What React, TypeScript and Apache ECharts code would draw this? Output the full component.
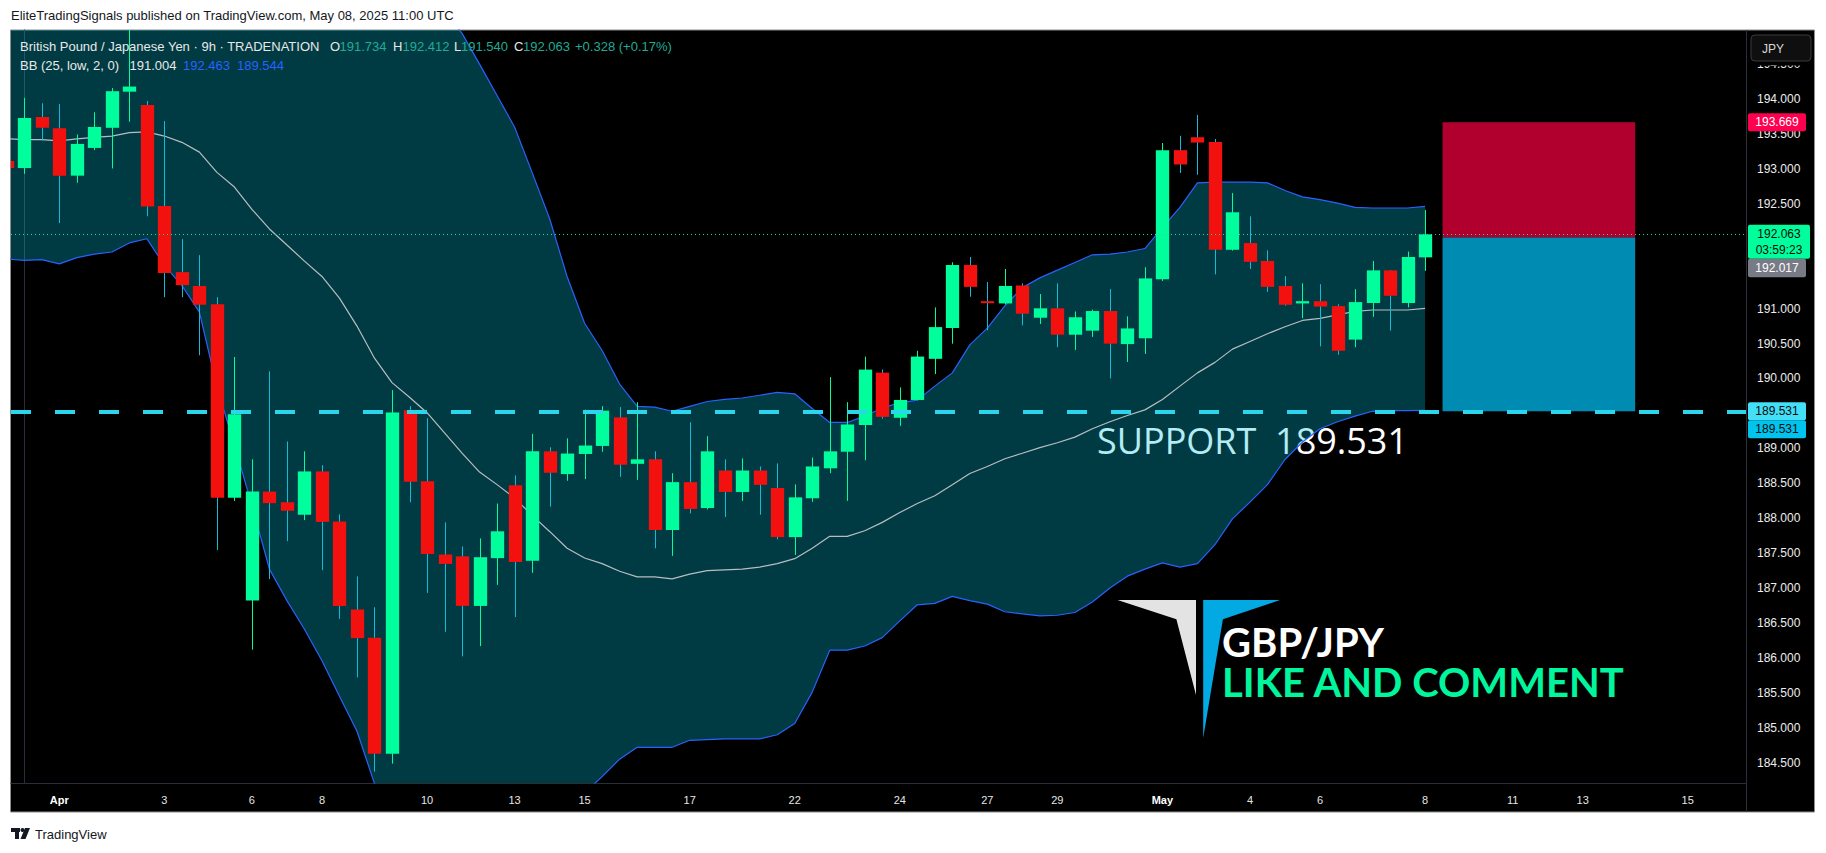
import React, { useEffect, useRef } from "react";
import * as echarts from "echarts";

// ---------- data (bar index k = -1 .. 80, 9h bars) ----------
const barIndex = [
  -1, 0, 1, 2, 3, 4, 5, 6, 7, 8,
  9, 10, 11, 12, 13, 14, 15, 16, 17, 18,
  19, 20, 21, 22, 23, 24, 25, 26, 27, 28,
  29, 30, 31, 32, 33, 34, 35, 36, 37, 38,
  39, 40, 41, 42, 43, 44, 45, 46, 47, 48,
  49, 50, 51, 52, 53, 54, 55, 56, 57, 58,
  59, 60, 61, 62, 63, 64, 65, 66, 67, 68,
  69, 70, 71, 72, 73, 74, 75, 76, 77, 78,
  79, 80,
];
const opens = [
  193.114, 193.012, 193.741, 193.581, 192.903, 193.3, 193.588, 194.105, 193.914, 192.468,
  191.522, 191.324, 191.061, 188.292, 186.821, 188.381, 188.228, 188.049, 188.669, 187.953,
  186.693, 186.29, 184.627, 189.545, 188.528, 187.48, 187.454, 186.744, 187.428, 188.471,
  187.39, 188.957, 188.631, 188.919, 189.034, 189.443, 188.778, 188.842, 187.831, 188.516,
  188.145, 188.682, 188.375, 188.682, 188.432, 187.729, 188.285, 188.714, 188.951, 189.334,
  190.083, 189.437, 189.692, 190.281, 190.722, 191.624, 191.106, 191.074, 191.33, 190.869,
  191.004, 190.626, 190.684, 190.965, 190.492, 190.575, 191.419, 193.268, 193.453, 193.383,
  191.842, 191.938, 191.682, 191.324, 191.074, 191.106, 191.036, 190.556, 191.08, 191.547,
  191.08, 191.734,
];
const highs = [
  193.25, 194.016, 193.939, 193.927, 193.492, 193.81, 194.157, 195.3, 193.971, 193.684,
  191.995, 191.765, 191.164, 190.307, 188.842, 190.102, 189.098, 188.957, 188.759, 188.055,
  187.166, 186.725, 189.833, 189.603, 189.43, 187.94, 187.595, 187.71, 188.209, 188.612,
  189.207, 189.015, 189.143, 189.552, 189.603, 189.59, 189.66, 188.957, 188.644, 189.373,
  189.174, 188.842, 188.855, 188.74, 188.784, 188.484, 188.868, 190.019, 189.66, 190.313,
  190.127, 189.872, 190.396, 191.017, 191.663, 191.739, 191.381, 191.567, 191.362, 191.208,
  191.362, 190.959, 190.985, 191.279, 190.889, 191.592, 193.37, 193.473, 193.773, 193.428,
  192.654, 192.321, 191.835, 191.464, 191.362, 191.349, 191.061, 191.279, 191.682, 191.55,
  191.816, 192.412,
];
const lows = [
  192.9, 192.929, 193.409, 192.225, 192.801, 193.268, 193.006, 193.675, 192.321, 191.164,
  191.164, 190.332, 187.544, 188.247, 186.117, 187.128, 187.671, 187.972, 187.256, 186.558,
  185.721, 184.371, 184.486, 188.228, 186.93, 186.373, 186.021, 186.168, 187.045, 186.584,
  187.217, 188.164, 188.535, 188.56, 188.951, 188.592, 188.548, 187.569, 187.46, 188.068,
  188.125, 188.017, 188.247, 188.049, 187.697, 187.473, 188.234, 188.644, 188.247, 188.829,
  189.424, 189.322, 189.686, 190.063, 190.498, 191.17, 190.69, 191.06, 190.761, 190.78,
  190.447, 190.409, 190.594, 190.0, 190.236, 190.351, 191.394, 192.942, 192.916, 191.49,
  191.83, 191.567, 191.24, 191.042, 190.863, 190.46, 190.339, 190.447, 190.882, 190.684,
  191.017, 191.54,
];
const closes = [
  193.012, 193.728, 193.588, 192.903, 193.357, 193.6, 194.112, 194.178, 192.462, 191.509,
  191.336, 191.055, 188.292, 189.488, 188.381, 188.215, 188.106, 188.669, 187.946, 186.744,
  186.283, 184.627, 189.513, 188.522, 187.486, 187.345, 186.744, 187.441, 187.812, 187.371,
  188.957, 188.65, 188.925, 189.04, 189.539, 188.765, 188.842, 187.831, 188.516, 188.132,
  188.957, 188.375, 188.682, 188.477, 187.729, 188.298, 188.74, 188.957, 189.341, 190.127,
  189.45, 189.692, 190.313, 190.735, 191.624, 191.311, 191.08, 191.324, 190.927, 191.004,
  190.626, 190.876, 190.965, 190.498, 190.716, 191.432, 193.268, 193.063, 193.377, 191.842,
  192.379, 191.669, 191.311, 191.055, 191.106, 191.029, 190.396, 191.093, 191.547, 191.183,
  191.739, 192.063,
];
const bbUpper = [
  195.15, 195.15, 195.14, 195.16, 195.13, 195.12, 195.13, 195.1, 195.06, 195.32,
  195.43, 195.53, 196.04, 196.26, 196.52, 197.01, 197.0, 196.95, 196.96, 196.85,
  196.55, 196.34, 195.9, 195.7, 195.5, 195.25, 194.94, 194.5, 194.05, 193.6,
  192.95, 192.29, 191.46, 190.79, 190.4, 189.92, 189.6, 189.59, 189.53, 189.6,
  189.67, 189.7, 189.72, 189.76, 189.8, 189.78, 189.57, 189.37, 189.37, 189.46,
  189.58, 189.65, 189.69, 189.89, 190.08, 190.48, 190.72, 191.04, 191.3, 191.44,
  191.55, 191.66, 191.77, 191.78, 191.81, 191.86, 192.16, 192.45, 192.8, 192.81,
  192.81, 192.81, 192.8, 192.69, 192.6, 192.56, 192.51, 192.45, 192.44, 192.44,
  192.44, 192.463,
];
const bbBasis = [
  193.43, 193.42, 193.42, 193.4, 193.43, 193.45, 193.47, 193.52, 193.53, 193.47,
  193.38, 193.24, 192.95, 192.74, 192.42, 192.14, 191.91, 191.68, 191.46, 191.15,
  190.75, 190.29, 189.94, 189.73, 189.51, 189.22, 188.93, 188.66, 188.48, 188.29,
  188.04, 187.81, 187.57, 187.43, 187.35, 187.24, 187.16, 187.16, 187.13, 187.2,
  187.25, 187.26, 187.27, 187.3, 187.35, 187.42, 187.57, 187.74, 187.74, 187.82,
  187.94, 188.08, 188.21, 188.32, 188.48, 188.64, 188.74, 188.85, 188.93, 189.01,
  189.08, 189.16, 189.28, 189.38, 189.47, 189.55, 189.7, 189.89, 190.08, 190.23,
  190.42, 190.53, 190.64, 190.74, 190.83, 190.86, 190.91, 190.96, 190.98, 190.98,
  190.98, 191.004,
];
const bbLower = [
  191.71, 191.69, 191.7, 191.64, 191.73, 191.78, 191.81, 191.94, 192.0, 191.62,
  191.33, 190.95, 189.88, 189.05, 188.18, 187.27, 186.82, 186.41, 185.96, 185.45,
  184.95, 184.2, 183.98, 183.76, 183.52, 183.19, 182.96, 182.82, 182.91, 182.98,
  183.13, 183.33, 183.68, 184.07, 184.3, 184.55, 184.72, 184.72, 184.72, 184.82,
  184.83, 184.84, 184.84, 184.84, 184.9, 185.06, 185.51, 186.11, 186.11, 186.17,
  186.29, 186.53, 186.76, 186.78, 186.88, 186.82, 186.77, 186.66, 186.63, 186.6,
  186.61, 186.65, 186.8, 187.0, 187.17, 187.27, 187.36, 187.3, 187.35, 187.62,
  187.99, 188.23, 188.48, 188.84, 189.09, 189.28, 189.38, 189.46, 189.53, 189.54,
  189.54, 189.544,
];

const xLabelPos = [2, 8, 13, 17, 23, 28, 32, 38, 44, 50, 55, 59, 65, 70, 74, 80, 85, 89, 95];
const xLabelText = ["Apr", "3", "6", "8", "10", "13", "15", "17", "22", "24", "27", "29", "May", "4", "6", "8", "11", "13", "15"];
const xLabelBold = ["Apr", "May"];
// 192.000 sits under the price tags in the reference, so it is not listed
const yTicks = [184.5, 185, 185.5, 186, 186.5, 187, 187.5, 188, 188.5, 189, 189.5, 190, 190.5, 191, 192.5, 193, 193.5, 194, 194.5];

const supportPrice = 189.531;
const entryPrice = 192.017;
const targetPrice = 193.669;
const lastPrice = 192.063;
const countdown = "03:59:23";
const boxStartK = 81;
const boxEndK = 92;

const legendOHLC = { o: "191.734", h: "192.412", l: "191.540", c: "192.063", chg: "+0.328 (+0.17%)" };
const legendBB = { basis: "191.004", upper: "192.463", lower: "189.544" };

// ---------- style constants ----------
const UP = "#00FF9C";
const DOWN = "#F2110F";
const WICK_DOWN = "#12BCD8";
const BAND_BLUE = "#2962FF";
const FILL = "rgba(0,196,222,0.3)";
const FONT = "Liberation Sans";

const X_MIN = -0.76;
const X_MAX = 98.33;
const Y_MIN = 184.209;
const Y_MAX = 194.988;

function pairs(vals: number[]) {
  return barIndex.map((k, i) => [k, vals[i]]);
}

function buildOption(): any {
  const candleData = barIndex.map((k, i) => [k, opens[i], highs[i], lows[i], closes[i]]);
  return {
    animation: false,
    backgroundColor: "transparent",
    textStyle: { fontFamily: FONT },
    grid: { left: 11, right: 80, top: 30, bottom: 70, containLabel: false, outerBoundsMode: "none" },
    xAxis: {
      type: "value",
      min: X_MIN,
      max: X_MAX,
      axisLine: { show: true, lineStyle: { color: "#2A2E39", width: 1 } },
      axisTick: { show: false },
      splitLine: { show: false },
      axisLabel: {
        customValues: xLabelPos,
        color: "#E6E6E6",
        fontSize: 11,
        fontFamily: FONT,
        margin: 11,
        formatter: (v: number) => {
          const i = xLabelPos.findIndex((p) => Math.abs(p - v) < 1e-6);
          if (i < 0) return "";
          const t = xLabelText[i];
          return xLabelBold.includes(t) ? "{b|" + t + "}" : t;
        },
        rich: { b: { fontWeight: "bold", fontSize: 11, color: "#FFFFFF", fontFamily: FONT } },
      },
    },
    yAxis: {
      type: "value",
      position: "right",
      min: Y_MIN,
      max: Y_MAX,
      axisLine: { show: true, lineStyle: { color: "#2A2E39", width: 1 } },
      axisTick: { show: false },
      splitLine: { show: false },
      axisLabel: {
        customValues: yTicks,
        color: "#EDEDED",
        fontSize: 12,
        fontFamily: FONT,
        margin: 11,
        formatter: (v: number) => v.toFixed(3),
      },
    },
    series: [
      {
        name: "bbFill",
        type: "custom",
        clip: true,
        silent: true,
        z: 2,
        data: [[barIndex[0], bbBasis[0]]],
        encode: { x: 0, y: 1 },
        renderItem: (params: any, api: any) => {
          const top = barIndex.map((k, i) => api.coord([k, bbUpper[i]]));
          const bottom = barIndex.map((k, i) => api.coord([k, bbLower[i]])).reverse();
          return {
            type: "polygon",
            shape: { points: top.concat(bottom) },
            style: { fill: FILL },
          };
        },
      },
      {
        name: "Upper",
        type: "line",
        data: pairs(bbUpper),
        symbol: "none",
        lineStyle: { color: BAND_BLUE, width: 1.2 },
        silent: true,
        z: 3,
      },
      {
        name: "Lower",
        type: "line",
        data: pairs(bbLower),
        symbol: "none",
        lineStyle: { color: BAND_BLUE, width: 1.2 },
        silent: true,
        z: 3,
      },
      {
        name: "Basis",
        type: "line",
        data: pairs(bbBasis),
        symbol: "none",
        lineStyle: { color: "#B9BCC2", width: 1.2 },
        silent: true,
        z: 3,
      },
      {
        name: "GBPJPY",
        type: "custom",
        clip: true,
        z: 4,
        data: candleData,
        encode: { x: 0, y: [1, 2, 3, 4] },
        renderItem: (params: any, api: any) => {
          const k = api.value(0);
          const o = api.value(1);
          const h = api.value(2);
          const l = api.value(3);
          const c = api.value(4);
          const up = c >= o;
          const pO = api.coord([k, o]);
          const pC = api.coord([k, c]);
          const pH = api.coord([k, h]);
          const pL = api.coord([k, l]);
          const bw = api.size([1, 0])[0] * 0.76;
          const x = Math.round(pO[0]) + 0.5;
          const top = Math.min(pO[1], pC[1]);
          const bh = Math.max(2, Math.abs(pO[1] - pC[1]));
          return {
            type: "group",
            children: [
              {
                type: "line",
                shape: { x1: x, y1: pH[1], x2: x, y2: pL[1] },
                style: { stroke: up ? UP : WICK_DOWN, lineWidth: 1 },
              },
              {
                type: "rect",
                shape: { x: x - bw / 2, y: top, width: bw, height: bh },
                style: { fill: up ? UP : DOWN },
              },
            ],
          };
        },
      },
      {
        name: "drawings",
        type: "line",
        data: [],
        z: 5,
        silent: true,
        markLine: {
          silent: true,
          symbol: ["none", "none"],
          label: { show: false },
          data: [
            { yAxis: lastPrice, lineStyle: { color: "#19E49A", width: 1, type: [1, 3] } },
            { yAxis: supportPrice, lineStyle: { color: "#2BD5EB", width: 4, type: [20, 24] } },
          ],
        },
        markArea: {
          silent: true,
          label: { show: false },
          data: [
            [
              { xAxis: boxStartK, yAxis: entryPrice, itemStyle: { color: "#B2002E", opacity: 1 } },
              { xAxis: boxEndK, yAxis: targetPrice },
            ],
            [
              { xAxis: boxStartK, yAxis: supportPrice, itemStyle: { color: "#008CB2", opacity: 1 } },
              { xAxis: boxEndK, yAxis: entryPrice },
            ],
          ],
        },
      },
    ],
  };
}

function txt(text: string, x: number, y: number, font: string, fill: string, align = "left", z = 50): any {
  return {
    type: "text",
    z,
    silent: true,
    style: { text, x, y, font, fill, textAlign: align, textVerticalAlign: "middle" },
  };
}

function priceTag(y: number, h: number, w: number, bg: string, lines: string[], color: string): any[] {
  const els: any[] = [
    { type: "rect", z: 60, silent: true, shape: { x: 1748, y, width: w, height: h, r: 2 }, style: { fill: bg } },
  ];
  lines.forEach((t, i) => {
    els.push(txt(t, 1748 + w / 2, y + 9 + i * 16, `12px "${FONT}"`, color, "center", 61));
  });
  return els;
}

function buildGraphics(py: (p: number) => number): any[] {
  const f13 = `13px "${FONT}"`;
  const white = "#E8E8E8";
  const green = "#22AB94";
  const els: any[] = [];
  // page frame
  els.push({
    type: "rect",
    z: -100,
    silent: true,
    shape: { x: 10.5, y: 30, width: 1804, height: 782 },
    style: { fill: "#000000", stroke: "#8C8C8C", lineWidth: 1 },
  });
  els.push({
    type: "line",
    z: 40,
    silent: true,
    shape: { x1: 1746.5, y1: 30, x2: 1746.5, y2: 812 },
    style: { stroke: "#2A2E39", lineWidth: 1 },
  });
  // header
  els.push(txt("EliteTradingSignals published on TradingView.com, May 08, 2025 11:00 UTC", 11, 15.5, `13px "${FONT}"`, "#131722"));
  // legend
  els.push(txt("British Pound / Japanese Yen · 9h · TRADENATION", 20, 46, f13, white));
  els.push(txt("O", 330, 46, f13, white));
  els.push(txt(legendOHLC.o, 339.5, 46, f13, green));
  els.push(txt("H", 393, 46, f13, white));
  els.push(txt(legendOHLC.h, 402.5, 46, f13, green));
  els.push(txt("L", 454, 46, f13, white));
  els.push(txt(legendOHLC.l, 461, 46, f13, green));
  els.push(txt("C", 514, 46, f13, white));
  els.push(txt(legendOHLC.c, 523, 46, f13, green));
  els.push(txt(legendOHLC.chg, 575, 46, f13, green));
  els.push(txt("BB (25, low, 2, 0)", 20, 65, f13, white));
  els.push(txt(legendBB.basis, 129.5, 65, f13, white));
  els.push(txt(legendBB.upper, 183, 65, f13, BAND_BLUE));
  els.push(txt(legendBB.lower, 237, 65, f13, BAND_BLUE));
  // support annotation (sits under the band fill)
  els.push({
    type: "text",
    z: 1,
    silent: true,
    style: {
      text: "SUPPORT  189.531",
      x: 1097,
      y: 440,
      font: `36px "Open Sans"`,
      fill: "#FFFFFF",
      textAlign: "left",
      textVerticalAlign: "middle",
    },
  });
  // logo + two-line caption
  els.push({
    type: "polygon",
    z: 30,
    silent: true,
    shape: { points: [[1117.5, 600], [1196, 600], [1196, 695], [1176.4, 619.3]] },
    style: { fill: "#E3E3E3" },
  });
  els.push({
    type: "polygon",
    z: 30,
    silent: true,
    shape: { points: [[1203.2, 600], [1280, 600], [1222.9, 619.3], [1203.2, 738]] },
    style: { fill: "#03A9E2" },
  });
  els.push({
    type: "text",
    z: 50,
    silent: true,
    style: {
      text: "{a|GBP/JPY}\n{b|LIKE AND COMMENT}",
      x: 1222,
      y: 662,
      textAlign: "left",
      textVerticalAlign: "middle",
      rich: {
        a: { fill: "#FFFFFF", fontFamily: "Lato", fontWeight: "bold", fontSize: 40, lineHeight: 40 },
        b: { fill: "#00F59D", fontFamily: "Lato", fontWeight: "bold", fontSize: 40, lineHeight: 40 },
      },
    },
  });
  // JPY button (covers the top of the 194.500 label, as in the reference)
  els.push({
    type: "rect",
    z: 69,
    silent: true,
    shape: { x: 1748, y: 31, width: 66, height: 34.5 },
    style: { fill: "#000000" },
  });
  els.push({
    type: "rect",
    z: 70,
    silent: true,
    shape: { x: 1751, y: 35, width: 60, height: 26, r: 4 },
    style: { fill: "#0F0F0F", stroke: "#3A3A3A", lineWidth: 1 },
  });
  els.push(txt("JPY", 1762, 48.5, `12px "${FONT}"`, "#D8D8D8", "left", 71));
  // price tags
  const yT = py(targetPrice);
  els.push(...priceTag(yT - 9, 18, 58, "#FF0050", [targetPrice.toFixed(3)], "#FFFFFF"));
  const yL = py(lastPrice);
  els.push(...priceTag(yL - 9.5, 34, 62, "#00FF9C", [lastPrice.toFixed(3), countdown], "#0B0B0B"));
  els.push(...priceTag(yL + 24.5, 18.5, 58, "#787B86", [entryPrice.toFixed(3)], "#FFFFFF"));
  const yS = py(supportPrice);
  els.push(...priceTag(yS - 9, 18, 58, "#42DFF7", [supportPrice.toFixed(3)], "#0B0B0B"));
  els.push(...priceTag(yS + 9, 18, 58, "#00C3EE", [supportPrice.toFixed(3)], "#0B0B0B"));
  // TradingView footer
  els.push({ type: "rect", z: 10, silent: true, shape: { x: 11, y: 828, width: 9, height: 4 }, style: { fill: "#131722" } });
  els.push({ type: "rect", z: 10, silent: true, shape: { x: 15, y: 828, width: 4, height: 11 }, style: { fill: "#131722" } });
  els.push({ type: "circle", z: 10, silent: true, shape: { cx: 22.5, cy: 830, r: 2 }, style: { fill: "#131722" } });
  els.push({
    type: "polygon",
    z: 10,
    silent: true,
    shape: { points: [[25, 828], [30, 828], [25.5, 839], [20.5, 839]] },
    style: { fill: "#131722" },
  });
  els.push(txt("TradingView", 35, 834, `13px "${FONT}"`, "#131722"));
  return els;
}

export default function App() {
  const ref = useRef<HTMLDivElement>(null);
  useEffect(() => {
    if (!ref.current) return;
    const chart = echarts.init(ref.current, null, { renderer: "svg" });
    chart.setOption(buildOption());
    const py = (p: number) => chart.convertToPixel({ yAxisIndex: 0 }, p) as unknown as number;
    chart.setOption({ graphic: { elements: buildGraphics(py) } });
    return () => chart.dispose();
  }, []);
  return (
    <div
      ref={ref}
      style={{ position: "absolute", left: 0, top: 0, width: 1826, height: 853, background: "#FFFFFF" }}
    />
  );
}
